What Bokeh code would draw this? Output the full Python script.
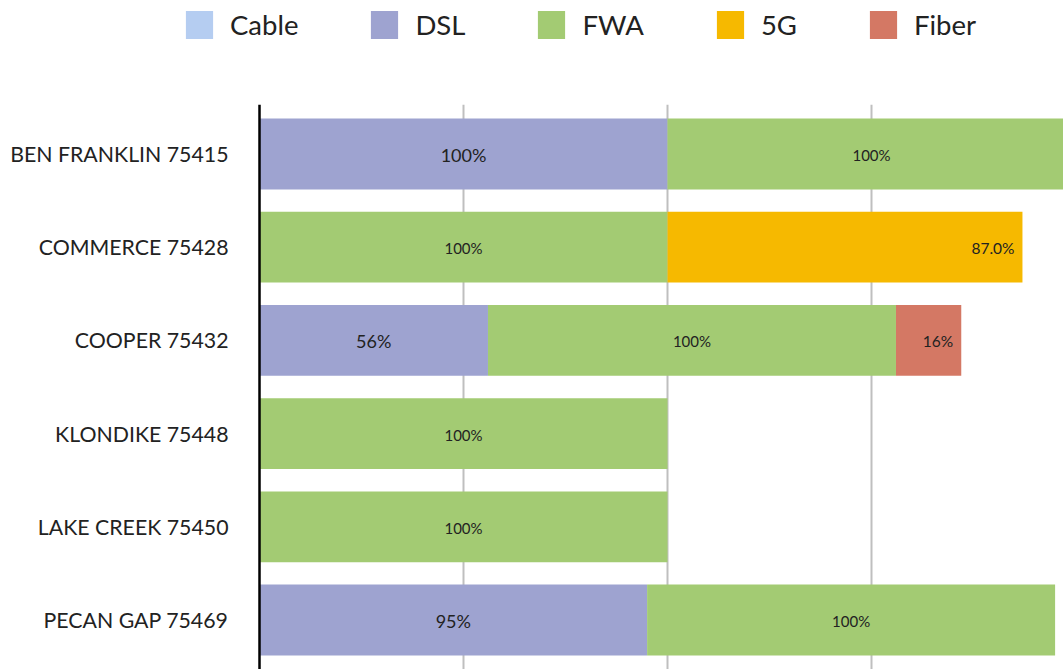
from bokeh.plotting import figure
from bokeh.models import ColumnDataSource, FactorRange, Range1d, FixedTicker, Legend, LegendItem, Span
from bokeh.layouts import column
from bokeh.core.properties import value
from bokeh.embed import file_html
from bokeh.resources import INLINE

# ---- data ----
categories = ["BEN FRANKLIN 75415", "COMMERCE 75428", "COOPER 75432",
              "KLONDIKE 75448", "LAKE CREEK 75450", "PECAN GAP 75469"]
series_names = ["Cable", "DSL", "FWA", "5G", "Fiber"]
cable = [0, 0, 0, 0, 0, 0]
dsl = [1.00, 0, 0.56, 0, 0, 0.95]
fwa = [1.00, 1.00, 1.00, 1.00, 1.00, 1.00]
g5 = [0, 0.87, 0, 0, 0, 0]
fiber = [0, 0, 0.16, 0, 0, 0]
colors = ["#B5CDF1", "#9EA3D0", "#A3CB73", "#F6B900", "#D47864"]
FONT = "Lato"

data = {"cat": categories, "Cable": cable, "DSL": dsl, "FWA": fwa, "5G": g5, "Fiber": fiber}
src = ColumnDataSource(data)

W = 1063
AXIS_PX = 259          # screen position of the category axis
UNIT_PX = 408          # pixels per 100 %
p = figure(width=W, height=565, output_backend="svg", toolbar_location=None,
           y_range=FactorRange(factors=list(reversed(categories)), range_padding=0.031,
                               range_padding_units="absolute"),
           x_range=Range1d(-AXIS_PX / UNIT_PX, (W - AXIS_PX) / UNIT_PX))
p.min_border_left = p.min_border_right = p.min_border_top = p.min_border_bottom = 0
p.outline_line_color = None
p.xaxis.visible = False
p.yaxis.visible = False

renderers = p.hbar_stack(series_names, y="cat", height=0.76, color=colors, source=src,
                         line_color=None)

# segment labels
def seg_labels(name, fmt, size, align):
    vals = data[name]
    idx = series_names.index(name)
    xs, ys, ts = [], [], []
    for i, v in enumerate(vals):
        if v <= 0:
            continue
        left = sum(data[s][i] for s in series_names[:idx])
        right = left + v
        xs.append((left + right) / 2 if align == "center" else right)
        ys.append(categories[i])
        ts.append(fmt.format(v))
    s = ColumnDataSource(dict(x=xs, y=ys, t=ts))
    p.text(x="x", y="y", text="t", source=s, text_font=value(FONT), text_font_size=size,
           text_align=align, text_baseline="middle", text_color="#222222",
           x_offset=(-8 if align == "right" else 0), y_offset=1)

seg_labels("DSL", "{:.0%}", "18px", "center")
seg_labels("FWA", "{:.0%}", "15px", "center")
seg_labels("5G", "{:.1%}", "15.5px", "right")
seg_labels("Fiber", "{:.0%}", "15.5px", "right")

# grid lines
p.xgrid.ticker = FixedTicker(ticks=[0.5, 1.0, 1.5])
p.xgrid.grid_line_color = "#BFBFBF"
p.xgrid.grid_line_width = 2
p.ygrid.grid_line_color = None

# category axis: line at 0 and category labels
p.add_layout(Span(location=0, dimension="height", line_color="#000000", line_width=2.5))
cat_src = ColumnDataSource(dict(x=[0] * len(categories), y=categories, t=categories))
p.text(x="x", y="y", text="t", source=cat_src, text_font=value(FONT),
       text_font_size="21.3px", text_align="right", text_baseline="middle",
       text_color="#222222", x_offset=-31)

# legend figure
lg = figure(width=W, height=104, output_backend="svg", toolbar_location=None,
            x_range=Range1d(0, 1), y_range=Range1d(0, 1))
lg.min_border_left = lg.min_border_right = lg.min_border_top = lg.min_border_bottom = 0
lg.outline_line_color = None
lg.xaxis.visible = False
lg.yaxis.visible = False
lg.grid.visible = False
items = []
for name, c in zip(series_names, colors):
    r = lg.hbar(y=[5], right=[5], left=[4], height=0.1, color=c, line_color=None)
    items.append(LegendItem(label=name, renderers=[r]))
leg = Legend(items=items, orientation="horizontal", location=(182, 62),
             glyph_width=34, glyph_height=35, label_standoff=14, spacing=69,
             padding=0, margin=0, border_line_color=None, background_fill_alpha=0,
             label_text_font=FONT, label_text_font_size="27.5px",
             label_text_color="#222222")
lg.add_layout(leg)

layout = column(lg, p, spacing=0)
open("out.html", "w").write(file_html(layout, INLINE))
